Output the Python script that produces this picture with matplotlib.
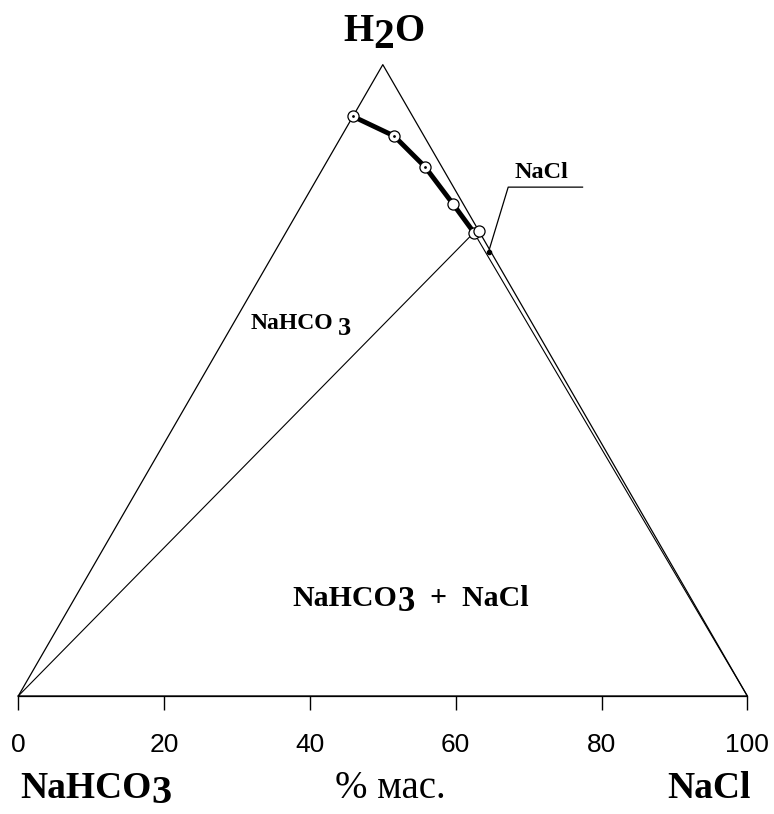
import numpy as np
import matplotlib
matplotlib.use("Agg")
import matplotlib.pyplot as plt

# NaCl - NaHCO3 - H2O, solubility isotherm, % mass
nacl = [0.0, 7.2, 13.9, 20.7, 25.8, 26.4]
nahco3 = [8.2, 4.1, 2.3, 1.4, 0.8, 0.0]
h2o = [100 - a - b for a, b in zip(nacl, nahco3)]
eutonic = 4          # index of the point saturated with both salts
ticks = [0, 20, 40, 60, 80, 100]

SQ = np.sqrt(3) / 2


def tern(cl, w):
    "NaCl % and H2O % -> cartesian x, y"
    cl = np.asarray(cl, float)
    w = np.asarray(w, float)
    return cl + w / 2, w * SQ


serif = ['Liberation Serif', 'DejaVu Serif']

fig = plt.figure(figsize=(7.74, 8.14), dpi=100)
ax = fig.add_axes([0, 0, 1, 1])
ax.set_xlim(-2.51, 103.66)
ax.set_ylim(-16.19, 95.47)

# triangle
tx, ty = tern([0, 100, 0, 0], [0, 0, 100, 0])
ax.plot(tx, ty, color='black', lw=0.9)

# curve + points
x, y = tern(nacl, h2o)
ax.plot(x[:eutonic + 1], y[:eutonic + 1], color='black', lw=3.5,
        solid_capstyle='butt', zorder=3)
ax.plot(x, y, 'o', ms=8, mfc='white', mec='black', mew=0.9, zorder=4)
ax.plot(x[:3], y[:3], '.', ms=2, color='black', zorder=5)

# tie lines from the eutonic point
ax.plot([0, x[eutonic], 100], [0, y[eutonic], 0], color='black', lw=0.8, zorder=2)

# NaCl label with leader
ax.plot([64.5, 67.2, 77.4], [60.9, 69.8, 69.8], color='black', lw=0.9)
ax.plot([64.5], [60.9], 'o', ms=3, color='black')
ax.text(71.7, 71.0, 'NaCl', family=serif, weight='bold', fontsize=17.5,
        ha='center', va='baseline')


def formula(x0, y0, head, sub, tail='', size=18, subsize=None, drop=5, gap=0):
    subsize = subsize or size
    t = ax.text(x0, y0, head, family=serif, weight='bold', fontsize=size,
                ha='left', va='baseline')
    s = ax.annotate(sub, xy=(1, 0), xycoords=t, xytext=(gap, -drop),
                    textcoords='offset points', family=serif, weight='bold',
                    fontsize=subsize, ha='left', va='bottom')
    if tail:
        ax.annotate(tail, xy=(1, 0), xycoords=s, xytext=(0, drop),
                    textcoords='offset points', family=serif, weight='bold',
                    fontsize=size, ha='left', va='bottom')


# phase fields
formula(31.8, 50.3, 'NaHCO', '3', size=17, subsize=19, drop=4, gap=4)
formula(37.6, 12.4, 'NaHCO', '3', '  +  NaCl', size=21.5, subsize=25, drop=5)

# vertex names
formula(44.6, 89.8, 'H', '2', 'O', size=28, subsize=30, drop=5)
formula(0.2, -14.0, 'NaHCO', '3', size=27, subsize=29, drop=4.5)
ax.text(100.4, -14.0, 'NaCl', family=serif, weight='bold', fontsize=27,
        ha='right', va='baseline')
ax.text(51.0, -14.0, '% мас.', family=serif, fontsize=28,
        ha='center', va='baseline')

# bottom scale
ax.set_xticks(ticks)
ax.set_yticks([])
for side in ['top', 'left', 'right']:
    ax.spines[side].set_visible(False)
ax.spines['bottom'].set_position(('data', 0))
ax.spines['bottom'].set_bounds(0, 100)
ax.spines['bottom'].set_linewidth(0.9)
ax.tick_params(axis='x', length=10, width=1, direction='out', pad=17,
               labelsize=19)
for lab in ax.get_xticklabels():
    lab.set_family(['Liberation Sans', 'DejaVu Sans'])
ax.patch.set_visible(False)

fig.savefig('out.png', dpi=100)
